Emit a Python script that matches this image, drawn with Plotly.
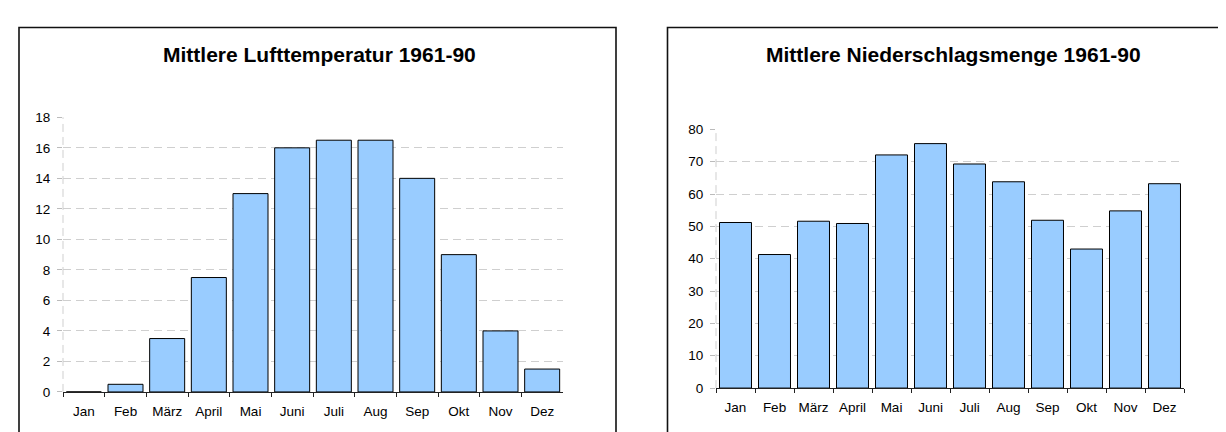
import plotly.graph_objects as go

W, H = 1226, 432

months = ["Jan", "Feb", "März", "April", "Mai", "Juni", "Juli", "Aug", "Sep", "Okt", "Nov", "Dez"]
temperature = [0.0, 0.5, 3.5, 7.5, 13.0, 16.0, 16.5, 16.5, 14.0, 9.0, 4.0, 1.5]
precipitation = [51.2, 41.3, 51.6, 50.9, 72.1, 75.6, 69.3, 63.8, 51.9, 43.0, 54.8, 63.2]
title_temp = "Mittlere Lufttemperatur 1961-90"
title_prec = "Mittlere Niederschlagsmenge 1961-90"

FONT = "Liberation Sans, Arial, sans-serif"
BAR_FILL = "#99CCFF"
GRID = "#CFCFCF"
DASH = "8px,5px"


def px(x):
    return x / W


def py(y):
    return 1 - y / H


fig = go.Figure()
fig.add_trace(go.Bar(x=months, y=temperature, xaxis="x", yaxis="y", width=0.84,
                     marker=dict(color=BAR_FILL, line=dict(color="#000000", width=1)),
                     showlegend=False, hoverinfo="x+y"))
fig.add_trace(go.Bar(x=months, y=precipitation, xaxis="x2", yaxis="y2", width=0.82,
                     marker=dict(color=BAR_FILL, line=dict(color="#000000", width=1)),
                     showlegend=False, hoverinfo="x+y"))

xcommon = dict(showgrid=False, showline=True, linecolor="#222222", linewidth=1,
               ticks="outside", tickson="boundaries", ticklen=4, tickcolor="#222222",
               tickfont=dict(family=FONT, size=13.5, color="#000000"), zeroline=False,
               tickangle=0, ticklabelstandoff=7, fixedrange=True)
ycommon = dict(showgrid=True, gridcolor=GRID, griddash=DASH, gridwidth=1,
               showline=False, ticks="outside", ticklen=5, tickcolor="#BBBBBB",
               tickfont=dict(family=FONT, size=13.5, color="#000000"), zeroline=False,
               ticklabelstandoff=4, fixedrange=True)

fig.update_layout(
    width=W, height=H,
    margin=dict(l=0, r=0, t=0, b=0),
    paper_bgcolor="white", plot_bgcolor="white",
    xaxis=dict(domain=[px(55), px(555)], anchor="y", **xcommon),
    yaxis=dict(domain=[py(390.5), py(106)], range=[0, 18], dtick=2, anchor="x", **ycommon),
    xaxis2=dict(domain=[px(708), px(1176)], anchor="y2", **xcommon),
    yaxis2=dict(domain=[py(386.5), py(118.5)], range=[0, 80], dtick=10, anchor="x2", **ycommon),
)

# panel frames
fig.add_shape(type="rect", xref="paper", yref="paper", x0=px(11), x1=px(608), y0=py(445), y1=py(13),
              line=dict(color="#111111", width=1.6), fillcolor="rgba(0,0,0,0)", layer="below")
fig.add_shape(type="rect", xref="paper", yref="paper", x0=px(659.5), x1=px(1231), y0=py(445), y1=py(13),
              line=dict(color="#111111", width=1.6), fillcolor="rgba(0,0,0,0)", layer="below")

# dashed value-axis lines
for xr, yr in (("x", "y"), ("x2", "y2")):
    fig.add_shape(type="line", xref=f"{xr} domain", yref=f"{yr} domain", x0=0, x1=0, y0=0, y1=1,
                  line=dict(color=GRID, width=1, dash=DASH), layer="below")

fig.add_annotation(text=title_temp, xref="paper", yref="paper", x=px(311), y=py(41),
                   showarrow=False, xanchor="center", yanchor="middle",
                   font=dict(family=FONT, size=21, color="#000000", weight="bold"))
fig.add_annotation(text=title_prec, xref="paper", yref="paper", x=px(945), y=py(41),
                   showarrow=False, xanchor="center", yanchor="middle",
                   font=dict(family=FONT, size=21, color="#000000", weight="bold"))

fig.write_html("out.html")
